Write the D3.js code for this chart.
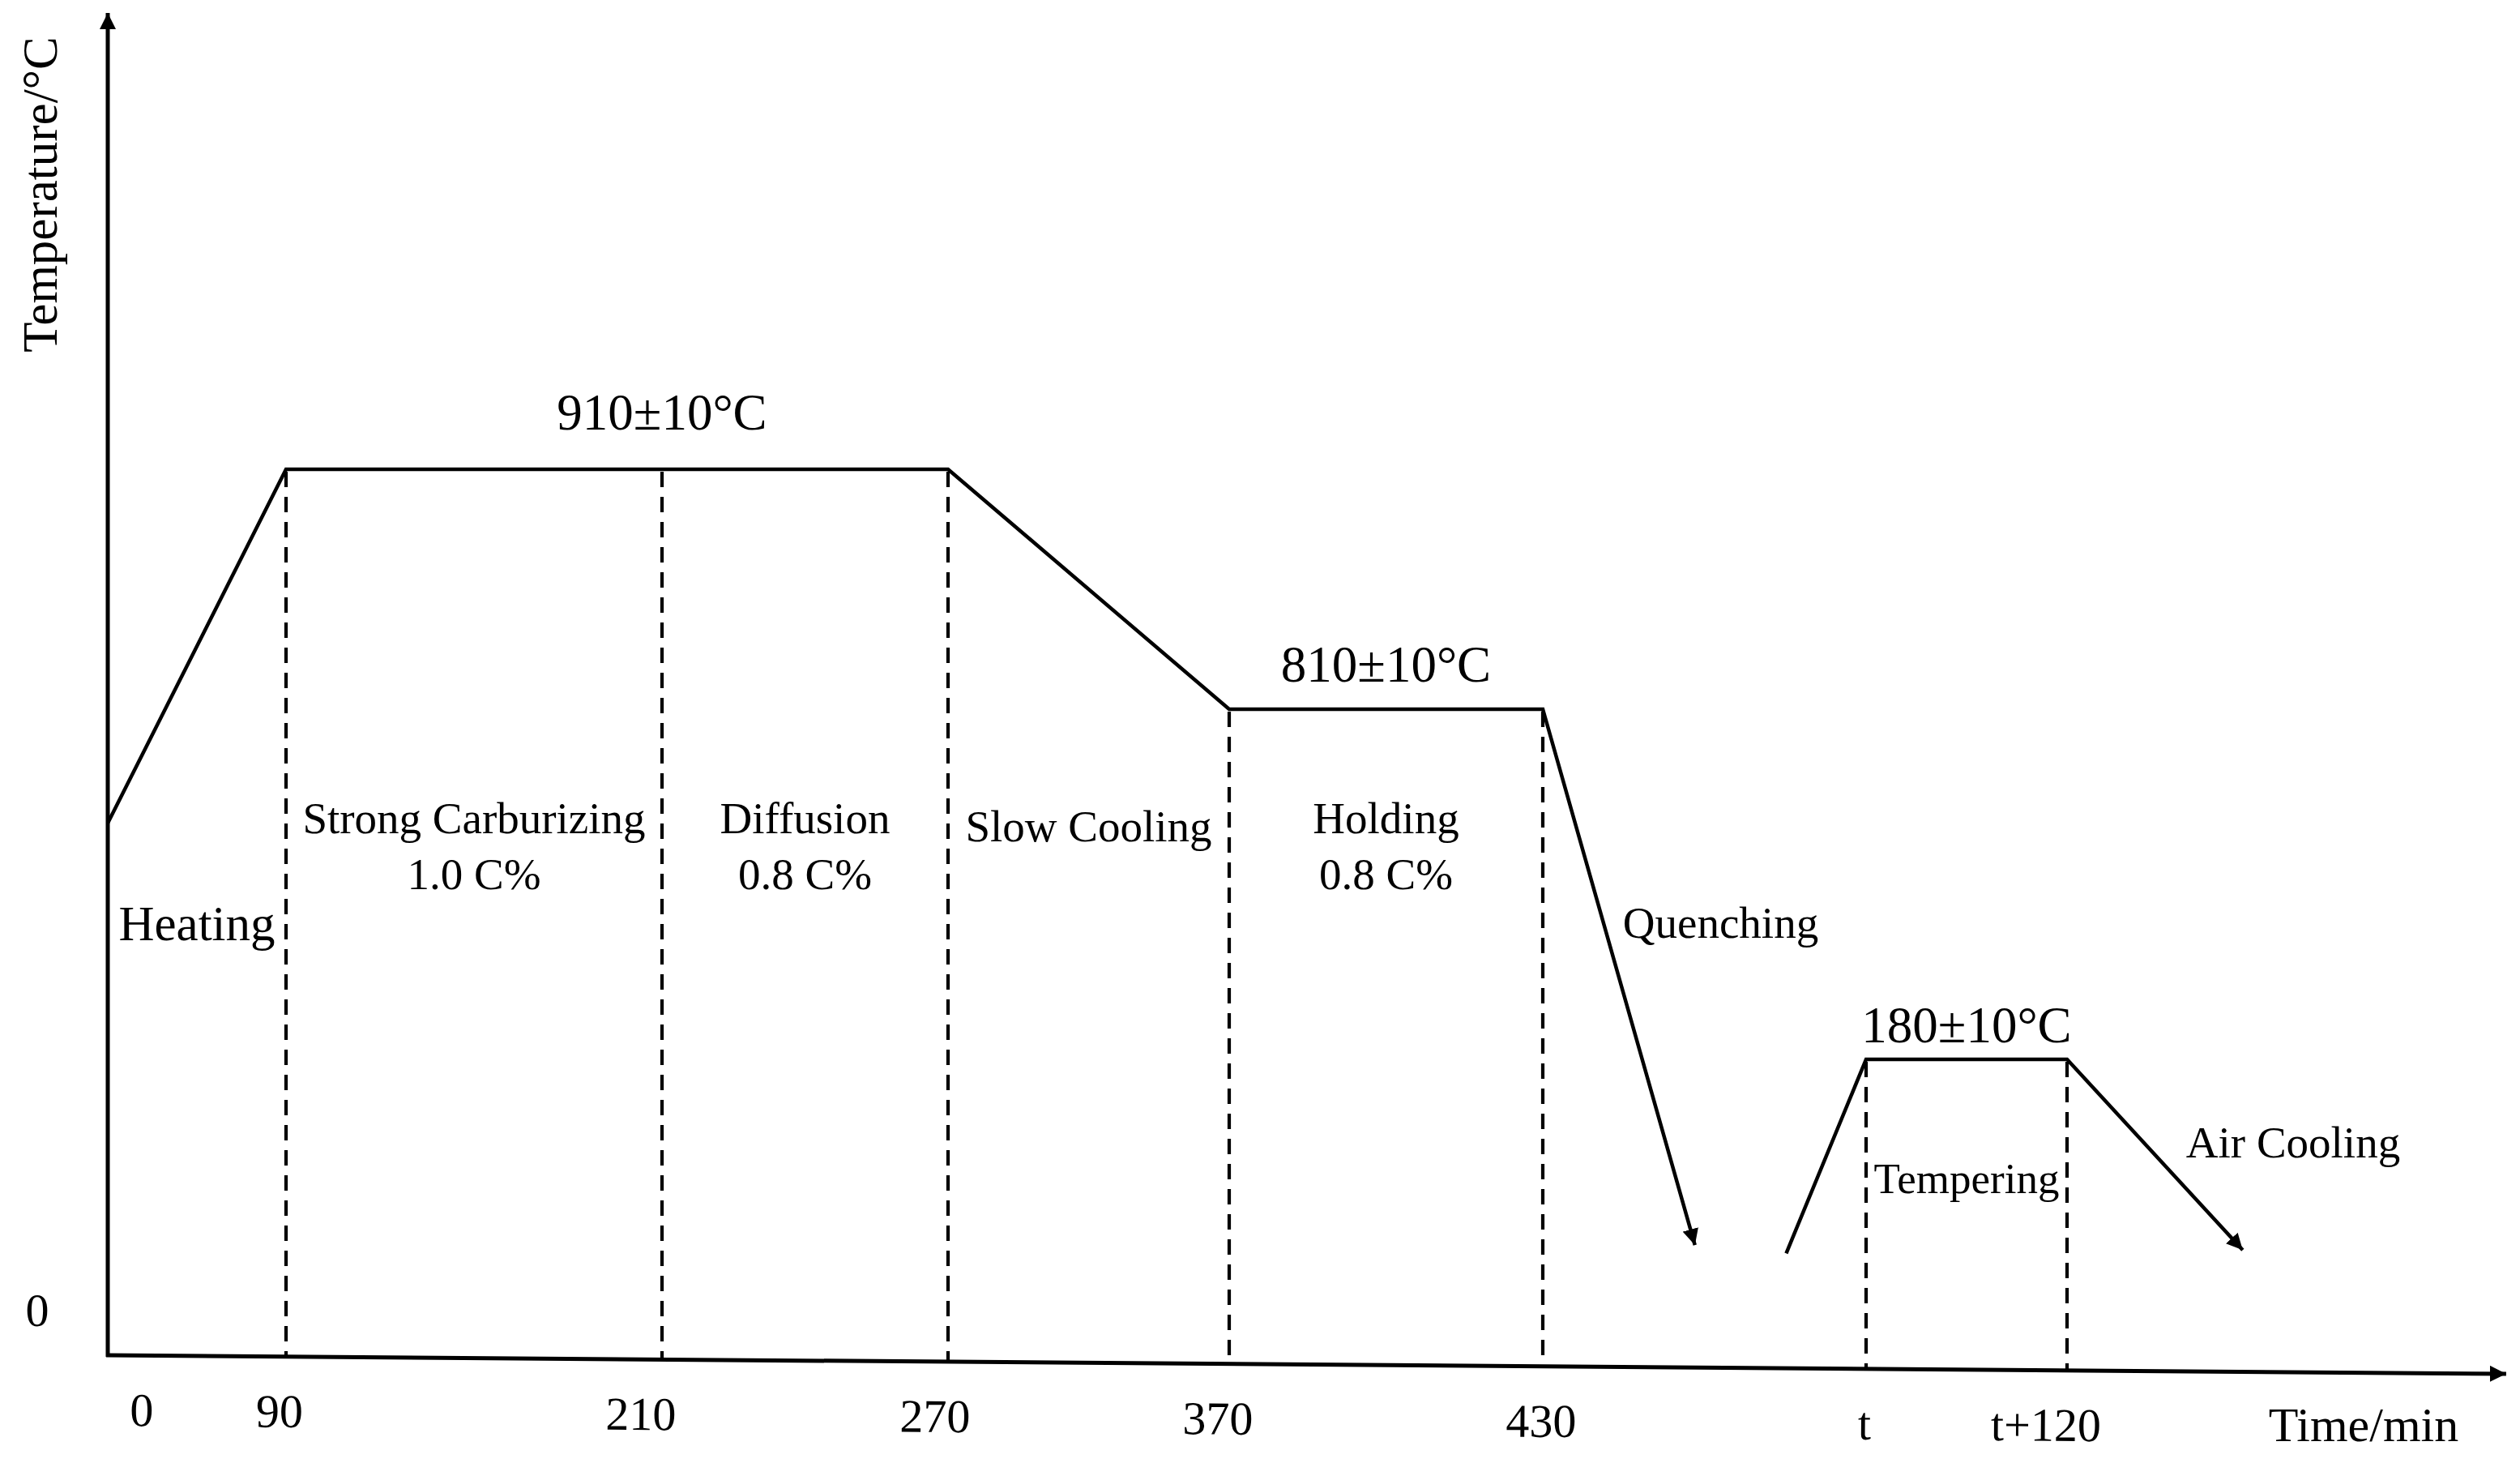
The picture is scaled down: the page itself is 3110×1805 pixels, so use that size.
<!DOCTYPE html>
<html>
<head>
<meta charset="utf-8">
<script src="https://cdn.jsdelivr.net/npm/d3@7"></script>
<style>
    html, body { margin: 0; padding: 0; background: #fff; }
    text { font-family: "Liberation Serif", "Times New Roman", serif; fill: #000; }
</style>
</head>
<body>
<svg id="chart" width="3110" height="1805"></svg>
<script>
// schematic carburizing + quench + temper schedule (time in min, temp in °C)
const tickTimes = [0, 90, 210, 270, 370, 430, 600, 720];
const tickLabels = ['0', '90', '210', '270', '370', '430', 't', 't+120'];

const carburizeTimes = [0, 90, 270, 370, 430, 510];
const carburizeTemps = [605, 910, 910, 810, 810, 67];

const temperTimes = [558, 600, 720, 824];
const temperTemps = [62, 180, 180, 64];

const stageTimes = [90, 210, 270, 370, 430, 600, 720];

const plateauLabels = ['910±10°C', '810±10°C', '180±10°C'];
const plateauTemps = [910, 810, 180];
const plateauLabelTimes = [210, 400, 660];

const phaseNames = ['Heating', 'Strong Carburizing', 'Diffusion', 'Slow Cooling', 'Holding', 'Quenching', 'Tempering', 'Air Cooling'];
const phaseCarbon = ['', '1.0 C%', '0.8 C%', '', '0.8 C%', '', '', ''];
const phaseStart = [0, 90, 210, 270, 370, 430, 600, 720];
const phaseEnd = [90, 210, 270, 370, 430, 600, 720, 980];

const svg = d3.select('#chart');

// the drawing is schematic, so both axes are piecewise linear
const x = d3.scaleLinear()
    .domain([0, 90, 210, 270, 370, 430, 600, 720, 980])
    .range([133, 353, 817, 1170, 1517, 1904, 2303, 2551, 3093]);
const y = d3.scaleLinear()
    .domain([0, 180, 810, 910, 1100])
    .range([1672, 1307, 875, 579, 16]);

const tilt = 23 / 2960;   // x axis in the original is drawn slightly askew
const tiltDeg = Math.atan(tilt) * 180 / Math.PI;
const axisY = px => y(0) + (px - x(0)) * tilt;

const tempAt = d3.scaleLinear()
    .domain(carburizeTimes.concat(temperTimes))
    .range(carburizeTemps.concat(temperTemps));

// arrow heads
const defs = svg.append('defs');
defs.append('marker')
    .attr('id', 'arrow')
    .attr('viewBox', '0 -10 20 20')
    .attr('refX', 20).attr('refY', 0)
    .attr('markerUnits', 'userSpaceOnUse')
    .attr('markerWidth', 20).attr('markerHeight', 20)
    .attr('orient', 'auto')
    .append('path')
    .attr('d', 'M0,-10L20,0L0,10Z')
    .attr('fill', '#000');

// y axis
svg.append('line')
    .attr('x1', x(0)).attr('y1', y(0) + 2)
    .attr('x2', x(0)).attr('y2', y(1100))
    .attr('stroke', '#000').attr('stroke-width', 5)
    .attr('marker-end', 'url(#arrow)');

svg.append('text')
    .attr('transform', `translate(70,240) rotate(-90)`)
    .attr('text-anchor', 'middle')
    .attr('font-size', 61)
    .text('Temperature/°C');

svg.append('text')
    .attr('x', 46).attr('y', y(0) - 36)
    .attr('text-anchor', 'middle')
    .attr('font-size', 58)
    .text('0');

// x axis
const tickDx = [42, -8, -26, -16, -14, -2, -2, -26];
const xg = svg.append('g')
    .attr('transform', `translate(0,${y(0)}) rotate(${tiltDeg},${x(0)},0)`)
    .call(d3.axisBottom(x)
        .tickValues(tickTimes)
        .tickFormat((d, i) => tickLabels[i])
        .tickSize(0));
xg.select('.domain').remove();
xg.attr('font-family', null).attr('font-size', null);
xg.selectAll('.tick text')
    .attr('y', 87).attr('dy', null)
    .attr('font-size', 58)
    .attr('dx', (d, i) => tickDx[i]);

xg.append('line')
    .attr('x1', x(0) - 2).attr('y1', 0)
    .attr('x2', x(980)).attr('y2', 0)
    .attr('stroke', '#000').attr('stroke-width', 5)
    .attr('marker-end', 'url(#arrow)');

svg.append('text')
    .attr('x', 2917).attr('y', 1778)
    .attr('text-anchor', 'middle')
    .attr('font-size', 60)
    .text('Time/min');

// dashed stage boundaries
svg.append('g').selectAll('line')
    .data(stageTimes)
    .join('line')
    .attr('x1', d => x(d)).attr('x2', d => x(d))
    .attr('y1', d => y(tempAt(d)) + 3)
    .attr('y2', d => axisY(x(d)))
    .attr('stroke', '#000').attr('stroke-width', 4.2)
    .attr('stroke-dasharray', '19,12');

// temperature profile
const line = d3.line()
    .x(d => x(d[0]))
    .y(d => y(d[1]));

[d3.zip(carburizeTimes, carburizeTemps), d3.zip(temperTimes, temperTemps)].forEach(seg => {
    svg.append('path')
        .datum(seg)
        .attr('d', line)
        .attr('fill', 'none')
        .attr('stroke', '#000')
        .attr('stroke-width', 4.5)
        .attr('stroke-linejoin', 'miter')
        .attr('marker-end', 'url(#arrow)');
});

// plateau temperatures
const plateauDy = [-49, -34, -21];
svg.append('g').selectAll('text')
    .data(plateauLabels)
    .join('text')
    .attr('x', (d, i) => x(plateauLabelTimes[i]))
    .attr('y', (d, i) => y(plateauTemps[i]) + plateauDy[i])
    .attr('text-anchor', 'middle')
    .attr('font-size', 63)
    .text(d => d);

// phase names
const phaseY = [1160, 1028, 1028, 1038, 1028, 1157, 1472, 1428];
const phaseSize = [61, 55, 55, 55, 55, 55, 53, 55];
const phaseDx = [0, 0, 0, 0, 0, 20, 0, 8];

const phases = svg.append('g').selectAll('text')
    .data(phaseNames)
    .join('text')
    .attr('text-anchor', 'middle')
    .attr('font-size', (d, i) => phaseSize[i])
    .attr('x', (d, i) => (x(phaseStart[i]) + x(phaseEnd[i])) / 2 + phaseDx[i])
    .attr('y', (d, i) => phaseY[i]);

phases.append('tspan').text(d => d);
phases.append('tspan')
    .attr('x', (d, i) => (x(phaseStart[i]) + x(phaseEnd[i])) / 2 + phaseDx[i])
    .attr('dy', 69)
    .text((d, i) => phaseCarbon[i]);
</script>
</body>
</html>
